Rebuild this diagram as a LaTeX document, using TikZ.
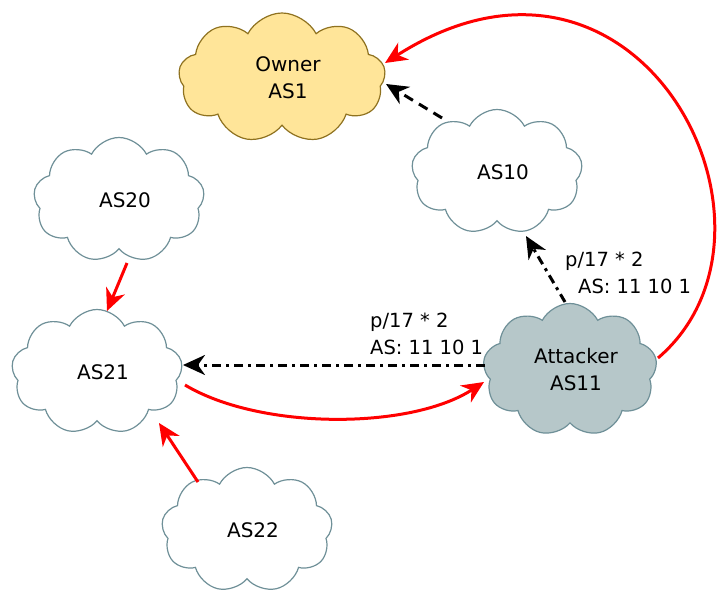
\documentclass[tikz,border=0pt]{standalone}
\usepackage{fontspec}
\setmainfont{DejaVu Sans}
\usetikzlibrary{shapes.symbols,arrows.meta,calc}
\definecolor{ownfill}{HTML}{FFE599}
\definecolor{owndraw}{HTML}{8F7220}
\definecolor{cldraw}{HTML}{6F9098}
\definecolor{attfill}{HTML}{B6C7C9}
\begin{document}
\begin{tikzpicture}[x=1bp,y=-1bp,
  asnode/.style={cloud, cloud puffs=9, cloud puff arc=125, cloud ignores aspect,
    draw=cldraw, line width=1.2bp, fill=white, minimum width=171bp, minimum height=125bp,
    align=center, font=\fontsize{20bp}{27bp}\selectfont, inner sep=0pt},
  tipstyle/.style={-{Stealth[length=22bp,width=20bp,inset=7bp]}},
  redarrow/.style={draw=red, line width=3bp, tipstyle},
  blkdash/.style={draw=black, line width=3bp, dash pattern=on 10bp off 7bp, tipstyle},
  dashdot/.style={draw=black, line width=3bp, dash pattern=on 9bp off 5bp on 3bp off 5bp, tipstyle},
  lbl/.style={font=\fontsize{19.5bp}{27bp}\selectfont, align=left, inner sep=0pt, anchor=north west}]
\useasboundingbox (0,0) rectangle (717,592);

\node[asnode, fill=ownfill, draw=owndraw, minimum width=207bp, minimum height=130bp] (own) at (282,78) {\hspace*{12bp}Owner\\\hspace*{12bp}AS1};
\node[asnode] (as10) at (497,172) {\hspace*{12bp}AS10};
\node[asnode] (as20) at (119,200) {\hspace*{12bp}AS20};
\node[asnode] (as21) at (97,372) {\hspace*{12bp}AS21};
\node[asnode] (as22) at (247,530) {\hspace*{12bp}AS22};
\node[asnode, fill=attfill, minimum width=174bp, minimum height=133bp] (att) at (570,370) {\hspace*{12bp}Attacker\\\hspace*{12bp}AS11};

\draw[redarrow] ($(att.center)+(88,-12)$) .. controls (808,230) and (640,-100) .. ($(own.center)+(103,-15)$);
\draw[blkdash] ($(as10.center)+(-55,-54)$) -- ($(own.center)+(104,6)$);
\draw[dashdot] ($(att.center)+(-5,-68)$) -- ($(as10.center)+(29,64)$);
\draw[dashdot] ($(att.center)+(-85,-5)$) -- ($(as21.center)+(86,-7)$);
\draw[redarrow] ($(as21.center)+(88,13)$) .. controls (260,430) and (410,430) .. ($(att.center)+(-86,12)$);
\draw[redarrow] ($(as20.center)+(8,63)$) -- ($(as21.center)+(10,-61)$);
\draw[redarrow] ($(as22.center)+(-49,-48)$) -- ($(as21.center)+(62,51)$);

\node[lbl] (l1) at (370,313) {p/17 * 2\\AS: 11 10 1};
\node[lbl] (l2) at (565,252) {p/17 * 2\\\hspace*{13bp}AS: 11 10 1};
\end{tikzpicture}
\end{document}
